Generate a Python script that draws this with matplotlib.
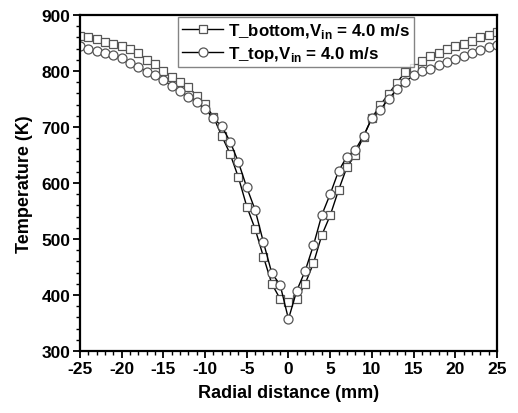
import numpy as np
import matplotlib
matplotlib.use("Agg")
import matplotlib.pyplot as plt
from matplotlib.ticker import MultipleLocator

plt.rcParams['font.family'] = ['Liberation Sans', 'DejaVu Sans']
plt.rcParams['font.weight'] = 'bold'
plt.rcParams['mathtext.fontset'] = 'custom'
plt.rcParams['mathtext.rm'] = 'Liberation Sans:bold'
plt.rcParams['axes.unicode_minus'] = False

# radial positions (mm)
r = np.arange(-25, 26, 1)

# T_bottom, Vin = 4.0 m/s
t_bottom = [863, 860, 857, 852, 848, 844, 839, 832, 820, 812,
            800, 790, 780, 771, 756, 741, 718, 684, 652, 610,
            558, 518, 468, 420, 393, 387,
            393, 420, 457, 507, 542, 587, 628, 650, 683, 716,
            739, 759, 779, 798, 805, 817, 826, 833, 839, 845,
            849, 853, 860, 865, 869]

# T_top, Vin = 4.0 m/s
t_top = [845, 840, 836, 833, 829, 823, 814, 807, 799, 792,
         784, 773, 764, 754, 744, 732, 716, 701, 674, 637,
         592, 552, 494, 439, 418, 357,
         408, 443, 489, 543, 580, 621, 647, 659, 684, 716,
         731, 750, 767, 781, 792, 800, 804, 811, 816, 821,
         827, 833, 838, 842, 846]

fig = plt.figure(figsize=(5.18, 4.14), dpi=100)
ax = fig.add_axes([0.1544, 0.1498, 0.805, 0.8116])

ax.plot(r, t_bottom, color='black', lw=1.0, marker='s', ms=6,
        mfc='white', mec='#555555', mew=0.9,
        label=r'T_bottom,V$_{\mathrm{in}}$ = 4.0 m/s')
ax.plot(r, t_top, color='black', lw=1.0, marker='o', ms=6.5,
        mfc='white', mec='#555555', mew=0.9,
        label=r'T_top,V$_{\mathrm{in}}$ = 4.0 m/s')

ax.set_xlim(-25, 25)
ax.set_ylim(300, 900)
ax.xaxis.set_major_locator(MultipleLocator(5))
ax.xaxis.set_minor_locator(MultipleLocator(1))
ax.yaxis.set_major_locator(MultipleLocator(100))
ax.yaxis.set_minor_locator(MultipleLocator(20))
ax.tick_params(which='major', direction='out', length=5, width=1.3, labelsize=12.5, pad=2)
ax.tick_params(which='minor', direction='out', length=3, width=1.0)
for s in ax.spines.values():
    s.set_linewidth(1.6)

ax.set_xlabel('Radial distance (mm)', fontsize=13, fontweight='bold', labelpad=6)
ax.set_ylabel('Temperature (K)', fontsize=13, fontweight='bold', labelpad=6)

leg = ax.legend(loc='upper left', bbox_to_anchor=(0.235, 0.995), borderaxespad=0,
                fontsize=12.2, frameon=True, fancybox=False, handlelength=2.4,
                handletextpad=0.3, borderpad=0.25, labelspacing=0.25)
leg.get_frame().set_edgecolor('#666666')
leg.get_frame().set_linewidth(1.0)

fig.savefig('out.png', dpi=100)
